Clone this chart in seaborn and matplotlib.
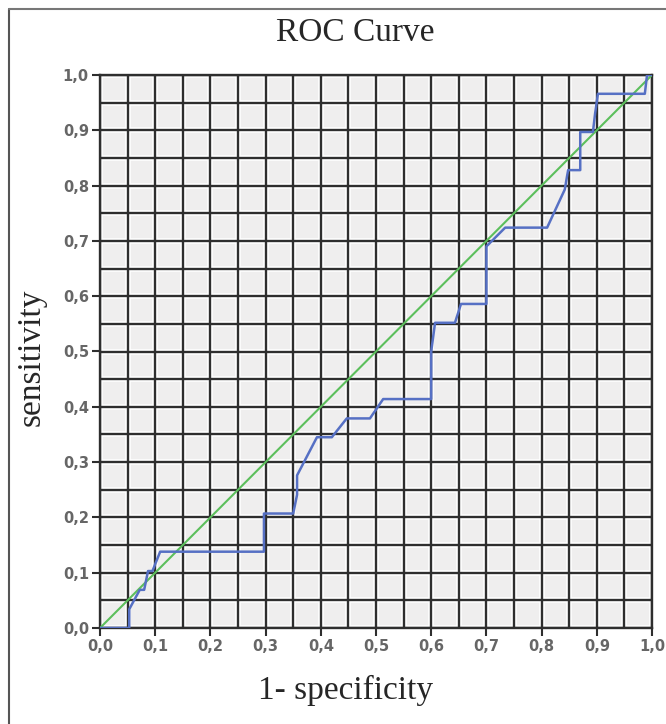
import numpy as np
import pandas as pd
import matplotlib
matplotlib.use("Agg")
import matplotlib.pyplot as plt
from matplotlib.lines import Line2D
from matplotlib.ticker import FuncFormatter, MultipleLocator
import seaborn as sns

# ROC curve points
fpr = [0.0, 0.053, 0.053, 0.072, 0.080, 0.087, 0.095, 0.109, 0.297, 0.297,
       0.350, 0.357, 0.357, 0.393, 0.420, 0.447, 0.489, 0.513, 0.600, 0.600,
       0.607, 0.643, 0.654, 0.700, 0.700, 0.734, 0.810, 0.842, 0.848, 0.870,
       0.870, 0.893, 0.897, 0.902, 0.987, 0.991, 1.0]
tpr = [0.0, 0.0, 0.034, 0.069, 0.069, 0.103, 0.103, 0.138, 0.138, 0.207,
       0.207, 0.241, 0.276, 0.345, 0.345, 0.379, 0.379, 0.414, 0.414, 0.500,
       0.552, 0.552, 0.586, 0.586, 0.690, 0.724, 0.724, 0.793, 0.828, 0.828,
       0.897, 0.897, 0.931, 0.966, 0.966, 1.0, 1.0]
ref_line = [0.0, 1.0]

roc = pd.DataFrame({"fpr": fpr, "tpr": tpr})
diag = pd.DataFrame({"x": ref_line, "y": ref_line})

sns.set_style("white")

fig = plt.figure(figsize=(6.66, 7.24), dpi=100)
ax = fig.add_axes([100 / 666, 96 / 724, 552 / 666, 553 / 724])
ax.set_facecolor("#efeeee")

# grid: white halo under dark lines
grid = np.arange(0, 1.0001, 0.05)
for g in grid:
    ax.axvline(g, color="white", lw=4, zorder=1)
    ax.axhline(g, color="white", lw=4, zorder=1)
for g in grid:
    ax.axvline(g, color="#2e2e2e", lw=1.7, zorder=2)
    ax.axhline(g, color="#2e2e2e", lw=1.7, zorder=2)

sns.lineplot(data=diag, x="x", y="y", color="#5cbf5c", lw=1.5, ax=ax,
             sort=False, estimator=None, zorder=3)
sns.lineplot(data=roc, x="fpr", y="tpr", color="#5670c4", lw=1.8, ax=ax,
             sort=False, estimator=None, zorder=4)

ax.set_xlim(0, 1)
ax.set_ylim(0, 1)
ax.xaxis.set_major_locator(MultipleLocator(0.1))
ax.yaxis.set_major_locator(MultipleLocator(0.1))
comma = FuncFormatter(lambda v, p: f"{v:.1f}".replace(".", ","))
ax.xaxis.set_major_formatter(comma)
ax.yaxis.set_major_formatter(comma)
ax.tick_params(axis="both", direction="out", length=6, width=1.5,
               color="#2e2e2e", labelsize=10.5, labelcolor="#666666", pad=2,
               bottom=True, left=True)
for lab in ax.get_xticklabels() + ax.get_yticklabels():
    lab.set_fontweight("semibold")

for s in ax.spines.values():
    s.set_color("#2e2e2e")
    s.set_linewidth(1.7)

serif = "Liberation Serif"
ax.set_xlabel("1- specificity", fontsize=24, family=serif)
ax.xaxis.set_label_coords((346 - 100) / 552, -(690 - 628) / 553)
ax.xaxis.label.set_va("center")
ax.set_ylabel("sensitivity", fontsize=24, family=serif)
ax.yaxis.set_label_coords(-(100 - 31) / 552, (628 - 357) / 553)
ax.yaxis.label.set_va("center")
fig.text(355 / 666, 1 - 33 / 724, "ROC Curve", fontsize=24, family=serif,
         ha="center", va="center")

# outer frame (left and top edges visible)
fig.add_artist(Line2D([9 / 666, 9 / 666], [0, 1 - 9 / 724],
                      transform=fig.transFigure, color="#555555", lw=1.5))
fig.add_artist(Line2D([9 / 666, 1], [1 - 9 / 724, 1 - 9 / 724],
                      transform=fig.transFigure, color="#777777", lw=1.5))

fig.savefig("out.png", dpi=100)
